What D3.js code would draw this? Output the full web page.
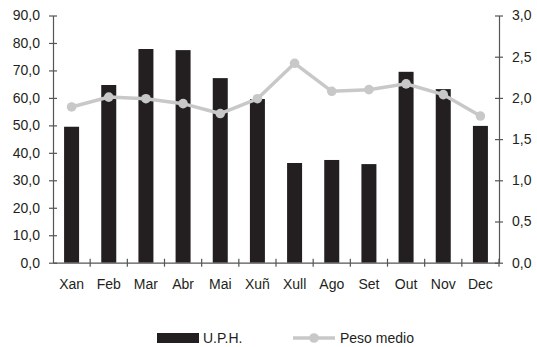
<!DOCTYPE html>
<html>
<head>
<meta charset="utf-8">
<script src="https://cdn.jsdelivr.net/npm/d3@7"></script>
<style>
  body { margin: 0; background: #fff; }
  text { font-family: "Liberation Sans", Arial, sans-serif; fill: #231f20; }
</style>
</head>
<body>
<div id="chart"></div>
<script>
// Data
const months = ["Xan", "Feb", "Mar", "Abr", "Mai", "Xuñ", "Xull", "Ago", "Set", "Out", "Nov", "Dec"];
const uph = [49.5, 64.7, 77.8, 77.4, 67.2, 59.6, 36.3, 37.4, 35.9, 69.5, 63.2, 49.8];
const pesoMedio = [1.89, 2.01, 1.99, 1.93, 1.81, 1.99, 2.42, 2.08, 2.10, 2.17, 2.04, 1.78];
const leftTicks = [0, 10, 20, 30, 40, 50, 60, 70, 80, 90];
const rightTicks = [0, 0.5, 1.0, 1.5, 2.0, 2.5, 3.0];

const dimensions = { width: 537, height: 347, left: 53, right: 499, top: 15.5, bottom: 262.7 };

const svg = d3.select('#chart')
    .append('svg')
    .attr('width', dimensions.width)
    .attr('height', dimensions.height);

// Scales
const xScale = d3.scaleBand()
    .domain(months)
    .range([dimensions.left, dimensions.right]);

const yLeft = d3.scaleLinear().domain([0, 90]).range([dimensions.bottom, dimensions.top]);
const yRight = d3.scaleLinear().domain([0, 3]).range([dimensions.bottom, dimensions.top]);

const fmt1 = d => d3.format('.1f')(d).replace('.', ',');
const axisColor = '#555';
const barWidth = 15;

// Bars
svg.append('g')
    .selectAll('rect')
    .data(uph)
    .join('rect')
    .attr('x', (d, i) => xScale(months[i]) + xScale.bandwidth() / 2 - barWidth / 2)
    .attr('y', d => yLeft(d))
    .attr('width', barWidth)
    .attr('height', d => yLeft(0) - yLeft(d))
    .attr('fill', '#231f20');

// Axes
const leftAxis = svg.append('g')
    .attr('transform', `translate(${dimensions.left},0)`)
    .call(d3.axisLeft(yLeft).tickValues(leftTicks).tickFormat(fmt1).tickSizeInner(4).tickSizeOuter(0).tickPadding(9));

const rightAxis = svg.append('g')
    .attr('transform', `translate(${dimensions.right},0)`)
    .call(d3.axisRight(yRight).tickValues(rightTicks).tickFormat(fmt1).tickSizeInner(4).tickSizeOuter(0).tickPadding(9));

// x axis: ticks at category boundaries, crossing the baseline
const xAxis = svg.append('g')
    .attr('transform', `translate(0,${dimensions.bottom})`)
    .call(d3.axisBottom(xScale).tickSize(0).tickPadding(16));
xAxis.selectAll('.tick')
    .append('line')
    .attr('x1', xScale.bandwidth() / 2)
    .attr('x2', xScale.bandwidth() / 2)
    .attr('y1', -4)
    .attr('y2', 4)
    .attr('stroke', axisColor);

[leftAxis, rightAxis].forEach(ax => {
    ax.selectAll('.tick line').clone().attr('x2', d => -ax.select('.tick line').attr('x2'));
});

[leftAxis, rightAxis, xAxis].forEach(ax => {
    ax.select('.domain').attr('stroke', axisColor).attr('stroke-width', 1.2);
    ax.selectAll('.tick line').attr('stroke', axisColor).attr('stroke-width', 1.2);
    ax.selectAll('text')
        .style('font-size', '14px')
        .style('font-family', '"Liberation Sans", Arial, sans-serif')
        .attr('fill', '#231f20');
});

// Line
const line = d3.line()
    .x((d, i) => xScale(months[i]) + xScale.bandwidth() / 2)
    .y(d => yRight(d));

svg.append('path')
    .datum(pesoMedio)
    .attr('d', line)
    .attr('fill', 'none')
    .attr('stroke', '#c8c8c8')
    .attr('stroke-width', 3.5);

svg.append('g')
    .selectAll('circle')
    .data(pesoMedio)
    .join('circle')
    .attr('cx', (d, i) => xScale(months[i]) + xScale.bandwidth() / 2)
    .attr('cy', d => yRight(d))
    .attr('r', 4.8)
    .attr('fill', '#c8c8c8');

// Legend
const legend = svg.append('g');
legend.append('rect')
    .attr('x', 157).attr('y', 333)
    .attr('width', 42).attr('height', 10)
    .attr('fill', '#231f20');
legend.append('text')
    .attr('x', 203).attr('y', 343)
    .style('font-size', '14px')
    .text('U.P.H.');
legend.append('line')
    .attr('x1', 293).attr('x2', 335)
    .attr('y1', 338).attr('y2', 338)
    .attr('stroke', '#c8c8c8').attr('stroke-width', 3.5);
legend.append('circle')
    .attr('cx', 314).attr('cy', 338).attr('r', 4.8)
    .attr('fill', '#c8c8c8');
legend.append('text')
    .attr('x', 340).attr('y', 343)
    .style('font-size', '14px')
    .text('Peso medio');
</script>
</body>
</html>
